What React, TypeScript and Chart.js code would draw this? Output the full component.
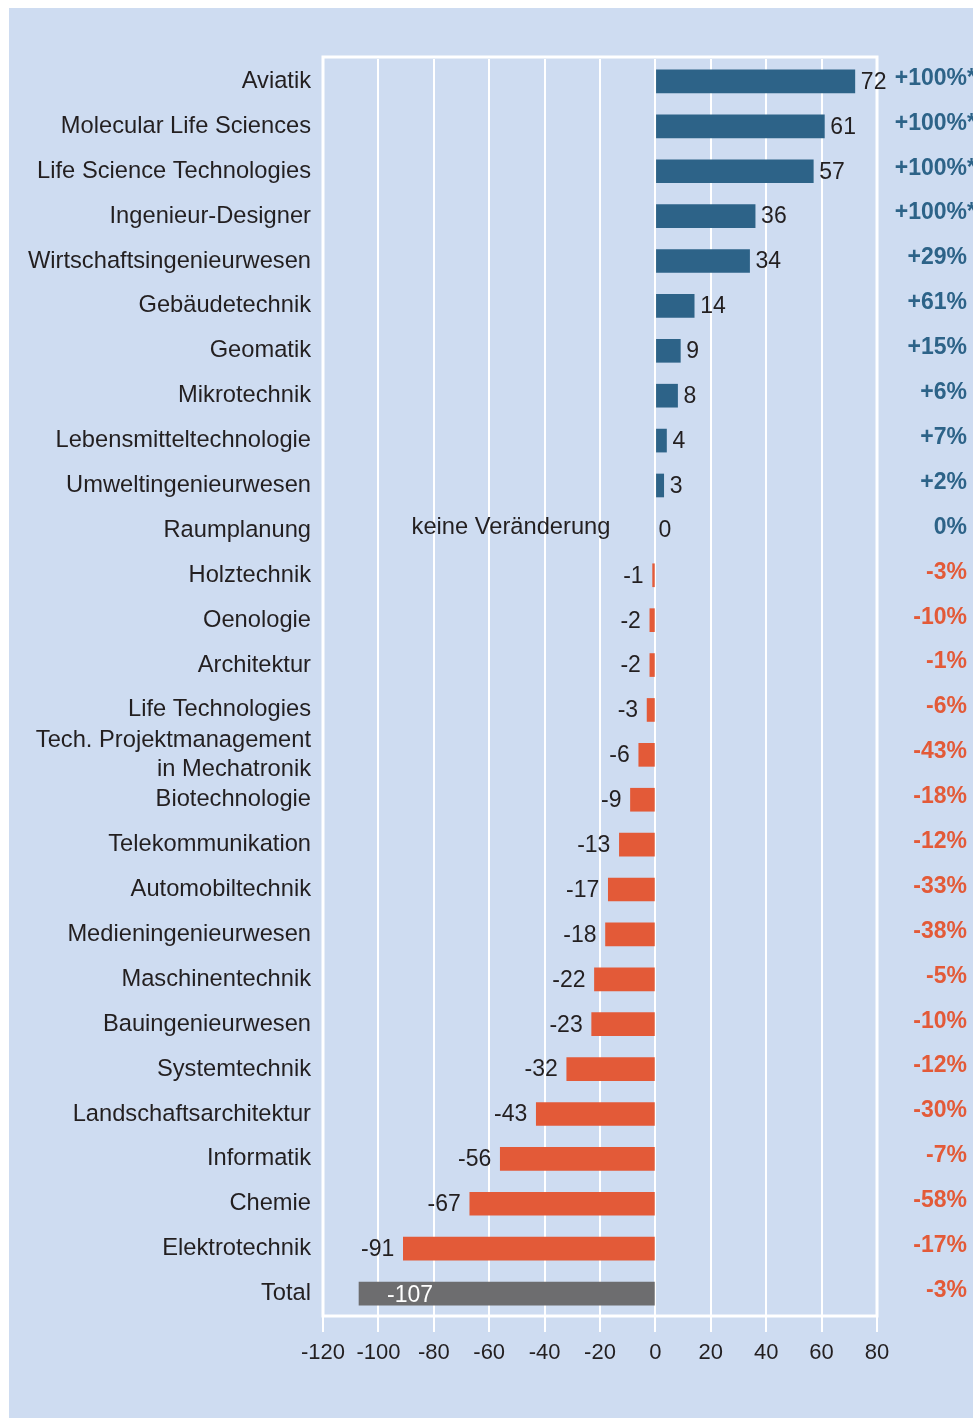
import React, { useEffect, useRef } from "react";
import { Chart, registerables } from "chart.js";

Chart.register(...registerables);

const categories: (string | string[])[] = [
  "Aviatik",
  "Molecular Life Sciences",
  "Life Science Technologies",
  "Ingenieur-Designer",
  "Wirtschaftsingenieurwesen",
  "Gebäudetechnik",
  "Geomatik",
  "Mikrotechnik",
  "Lebensmitteltechnologie",
  "Umweltingenieurwesen",
  "Raumplanung",
  "Holztechnik",
  "Oenologie",
  "Architektur",
  "Life Technologies",
  ["Tech. Projektmanagement", "in Mechatronik"],
  "Biotechnologie",
  "Telekommunikation",
  "Automobiltechnik",
  "Medieningenieurwesen",
  "Maschinentechnik",
  "Bauingenieurwesen",
  "Systemtechnik",
  "Landschaftsarchitektur",
  "Informatik",
  "Chemie",
  "Elektrotechnik",
  "Total",
];

const changes: number[] = [
  72, 61, 57, 36, 34, 14, 9, 8, 4, 3, 0, -1, -2, -2, -3, -6, -9, -13, -17, -18,
  -22, -23, -32, -43, -56, -67, -91, -107,
];

const percents: string[] = [
  "+100%*", "+100%*", "+100%*", "+100%*", "+29%", "+61%", "+15%", "+6%", "+7%",
  "+2%", "0%", "-3%", "-10%", "-1%", "-6%", "-43%", "-18%", "-12%", "-33%",
  "-38%", "-5%", "-10%", "-12%", "-30%", "-7%", "-58%", "-17%", "-3%",
];

const zeroNote = "keine Veränderung";

const BLUE = "#2d6388";
const ORANGE = "#e35a38";
const GREY = "#6d6d6f";
const TEXT = "#231f20";
const BG = "#cedcf1";
const FONT = "'Liberation Sans', Arial, Helvetica, sans-serif";

export default function App() {
  const ref = useRef<HTMLCanvasElement | null>(null);

  useEffect(() => {
    if (!ref.current) return;
    const n = changes.length;
    const colors = changes.map((v, i) =>
      i === n - 1 ? GREY : v > 0 ? BLUE : v < 0 ? ORANGE : "rgba(0,0,0,0)"
    );

    const bgPlugin = {
      id: "bg",
      beforeDraw(chart: any) {
        const { ctx, width, height } = chart;
        ctx.save();
        ctx.fillStyle = "#ffffff";
        ctx.fillRect(0, 0, width, height);
        ctx.fillStyle = BG;
        ctx.fillRect(9, 8, width - 9, height - 8);
        ctx.restore();
      },
      beforeDatasetsDraw(chart: any) {
        const { ctx, chartArea } = chart;
        ctx.save();
        ctx.strokeStyle = "#ffffff";
        ctx.lineWidth = 3;
        const top = chartArea.top - 2;
        ctx.strokeRect(
          chartArea.left,
          top,
          chartArea.right - chartArea.left,
          chartArea.bottom - top
        );
        ctx.restore();
      },
      afterDatasetsDraw(chart: any) {
        const { ctx } = chart;
        const xs = chart.scales.x;
        const ys = chart.scales.y;
        ctx.save();
        ctx.textBaseline = "middle";
        changes.forEach((v, i) => {
          const y = ys.getPixelForValue(i);
          const xe = xs.getPixelForValue(v);
          const x0 = xs.getPixelForValue(0);
          ctx.font = `23px ${FONT}`;
          if (i === n - 1) {
            ctx.fillStyle = "#ffffff";
            ctx.textAlign = "left";
            ctx.fillText(String(v), xe + 28, y + 2);
          } else if (v > 0) {
            ctx.fillStyle = TEXT;
            ctx.textAlign = "left";
            ctx.fillText(String(v), xe + 6, y + 1);
          } else if (v === 0) {
            ctx.fillStyle = TEXT;
            ctx.textAlign = "left";
            ctx.fillText(String(v), x0 + 3, y);
            ctx.font = `23.7px ${FONT}`;
            ctx.textAlign = "right";
            ctx.fillText(zeroNote, x0 - 45, y - 3);
          } else {
            ctx.fillStyle = TEXT;
            ctx.textAlign = "right";
            ctx.fillText(String(v), xe - 9, y + 1);
          }
          // percentage column
          const p = percents[i];
          const star = p.endsWith("*");
          const main = star ? p.slice(0, -1) : p;
          ctx.font = `bold 23px ${FONT}`;
          ctx.fillStyle = p.startsWith("-") ? ORANGE : BLUE;
          ctx.textAlign = "right";
          ctx.fillText(main, 967, y - 3);
          if (star) {
            ctx.textAlign = "left";
            ctx.fillText("*", 967, y - 3);
          }
        });
        ctx.restore();
      },
    };

    const chart = new Chart(ref.current, {
      type: "bar",
      data: {
        labels: categories,
        datasets: [
          {
            data: changes,
            backgroundColor: colors,
            barThickness: 23,
            borderWidth: 0,
          },
        ],
      },
      plugins: [bgPlugin],
      options: {
        indexAxis: "y",
        animation: false,
        responsive: false,
        devicePixelRatio: 1,
        layout: { padding: { left: 0, right: 96, top: 59, bottom: 0 } },
        plugins: {
          legend: { display: false },
          tooltip: { enabled: false },
          title: { display: false },
        },
        scales: {
          x: {
            type: "linear",
            position: "bottom",
            min: -120,
            max: 80,
            afterFit(scale: any) {
              scale.height = 102;
            },
            ticks: {
              stepSize: 20,
              color: TEXT,
              font: { family: FONT, size: 22 },
              padding: 8,
              maxRotation: 0,
            },
            grid: {
              color: "#ffffff",
              lineWidth: 2,
              tickLength: 16,
              drawTicks: true,
            },
            border: { display: false },
          },
          y: {
            type: "category",
            position: "left",
            afterFit(scale: any) {
              scale.width = 323;
            },
            ticks: {
              color: TEXT,
              font: { family: FONT, size: 23.7, lineHeight: 1.22 },
              padding: 12,
              autoSkip: false,
            },
            grid: { display: false, drawTicks: false },
            border: { display: false },
          },
        },
      },
    } as any);

    return () => chart.destroy();
  }, []);

  return (
    <div style={{ position: "absolute", left: 0, top: 0, width: 973, height: 1418 }}>
      <canvas ref={ref} width={973} height={1418} style={{ display: "block" }} />
    </div>
  );
}
